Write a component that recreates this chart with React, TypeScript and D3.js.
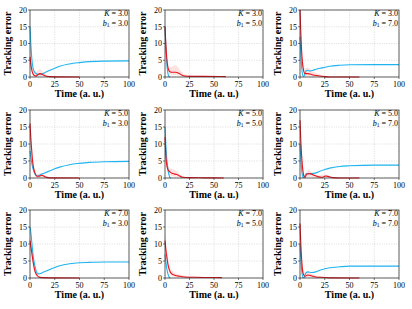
import * as d3 from "d3";

type Pt = [number, number];
type Band = [number, number, number];

const xTicks = [0, 25, 50, 75, 100];
const yTicks = [0, 5, 10, 15, 20];
const kValues = ["3.0", "5.0", "7.0"];
const bValues = ["3.0", "5.0", "7.0"];

// row = K, col = b1
const blue33: Pt[] = [[0, 15], [1, 9], [2, 5], [3, 2.8], [5, 1.3], [8, 0.8], [10, 0.8], [15, 1.3], [20, 2], [25, 2.6], [30, 3.2], [40, 3.9], [50, 4.3], [60, 4.6], [75, 4.75], [100, 4.8]];
const red33: Pt[] = [[0, 6], [1, 3.5], [2, 1.8], [4, 0.5], [6, 0.3], [8, 0.7], [10, 1], [13, 0.7], [16, 0.3], [20, 0.1], [25, 0.05], [50, 0.02]];
const band33: Band[] = [[0, 4, 15], [2, 1, 4], [5, 0, 1.2], [8, 0.2, 2], [10, 0.3, 2.3], [13, 0.2, 1.6], [17, 0, 0.6], [25, 0, 0.2], [50, 0, 0.1]];

const blue35: Pt[] = [[0, 15], [1, 8], [2, 3.5], [3, 1], [4, 0.2], [5, 0]];
const red35: Pt[] = [[0, 15], [1, 9], [2, 5], [3, 2.8], [5, 1.6], [8, 1.4], [11, 1.4], [14, 1.1], [17, 0.6], [20, 0.3], [25, 0.2], [40, 0.2], [55, 0.15], [62, 0.1]];
const band35: Band[] = [[0, 13, 17], [2, 3, 7], [5, 0.8, 2.8], [8, 0.6, 3.2], [11, 0.6, 3.5], [15, 0.4, 2.2], [20, 0.1, 0.8], [30, 0, 0.4], [62, 0, 0.3]];

const blue37: Pt[] = [[0, 12], [1, 6], [2, 2], [3, 0.3], [4, 0.2], [6, 1.8], [8, 2], [10, 1.8], [15, 2.2], [20, 2.6], [25, 2.9], [30, 3.2], [40, 3.5], [50, 3.65], [75, 3.7], [100, 3.7]];
const red37: Pt[] = [[0, 20], [1, 12], [2, 6], [3, 3], [5, 1], [8, 1], [10, 0.9], [15, 0.5], [20, 0.3], [25, 0.1], [30, 0], [60, 0]];
const band37: Band[] = [[0, 18, 20], [2, 4, 8], [5, 0.3, 2.5], [8, 0.3, 2.8], [12, 0.2, 1.8], [20, 0, 0.8], [30, 0, 0.2], [60, 0, 0.1]];

const blue53: Pt[] = [[0, 8], [1, 6], [2, 4], [4, 1.8], [6, 0.8], [8, 0.6], [10, 0.9], [15, 1.5], [20, 2.1], [25, 2.7], [30, 3.2], [40, 3.9], [50, 4.3], [60, 4.6], [75, 4.8], [100, 4.9]];
const red53: Pt[] = [[0, 16], [1, 11], [2, 7], [3, 4], [5, 1.5], [7, 0.5], [9, 0.5], [12, 0.8], [15, 0.4], [20, 0.05], [50, 0]];
const band53: Band[] = [[0, 14, 18], [2, 5, 9], [4, 1.5, 4], [7, 0.1, 1.2], [11, 0.2, 1.5], [15, 0, 0.8], [20, 0, 0.2], [50, 0, 0.05]];

const blue55: Pt[] = [[0, 15], [1, 9], [2, 5], [3, 2.5], [4, 1], [5, 0.2], [6, 0]];
const red55: Pt[] = [[0, 12], [1, 6], [2, 3.5], [3, 2.5], [5, 1.8], [8, 1.3], [12, 1], [15, 0.6], [18, 0.2], [25, 0.1], [40, 0.05], [60, 0]];
const band55: Band[] = [[0, 10, 15], [2, 2.5, 5], [5, 0.8, 3], [8, 0.5, 2.6], [12, 0.3, 2], [16, 0.1, 1], [20, 0, 0.4], [30, 0, 0.2], [60, 0, 0.05]];

const blue57: Pt[] = [[0, 10], [1, 5], [2, 1.5], [3, 0.2], [4, 0.1], [6, 1.2], [8, 1.3], [12, 1.3], [16, 1.5], [20, 2], [25, 2.5], [30, 2.9], [40, 3.4], [50, 3.6], [75, 3.8], [100, 3.8]];
const red57: Pt[] = [[0, 17], [1, 10], [2, 5], [3, 2], [4, 0.5], [5, 0.2], [7, 1.2], [10, 1.3], [14, 0.8], [18, 0.4], [22, 0.2], [26, 0.6], [29, 0.4], [33, 0.1], [40, 0], [60, 0]];
const band57: Band[] = [[0, 15, 19], [2, 3, 7], [5, 0, 1], [8, 0.4, 2.4], [12, 0.3, 1.8], [18, 0.1, 0.8], [26, 0.2, 1], [33, 0, 0.3], [60, 0, 0.05]];

const blue73: Pt[] = [[0, 15], [1, 13], [2, 10], [3, 7], [5, 3.5], [7, 1.5], [9, 1.2], [12, 1.5], [15, 1.9], [20, 2.5], [25, 3.1], [30, 3.6], [40, 4.2], [50, 4.5], [60, 4.6], [75, 4.7], [100, 4.7]];
const red73: Pt[] = [[0, 11], [1, 9], [2, 7], [3, 5], [5, 2], [7, 0.8], [9, 0.3], [12, 0.1], [20, 0.05], [50, 0]];
const band73: Band[] = [[0, 9, 13], [2, 5, 9], [4, 2, 5], [7, 0.3, 1.6], [10, 0, 0.6], [20, 0, 0.15], [50, 0, 0.05]];

const blue75: Pt[] = [[0, 7], [1, 4.5], [2, 2.5], [3, 1.2], [4, 0.4], [5, 0]];
const red75: Pt[] = [[0, 11], [1, 8], [2, 6], [3, 4], [5, 2], [7, 1.2], [10, 0.8], [15, 0.5], [20, 0.3], [30, 0.2], [45, 0.15], [58, 0.1]];
const band75: Band[] = [[0, 9, 14], [2, 4.5, 8], [4, 1.8, 4.5], [7, 0.6, 2.2], [10, 0.4, 1.6], [15, 0.2, 1], [25, 0.1, 0.5], [58, 0, 0.2]];

const blue77: Pt[] = [[0, 10], [1, 5], [2, 1.5], [3, 0.2], [4, 0.1], [6, 1.5], [8, 1.8], [12, 1.6], [16, 1.8], [20, 2.3], [25, 2.7], [30, 3], [40, 3.3], [50, 3.5], [75, 3.5], [100, 3.5]];
const red77: Pt[] = [[0, 16], [1, 9], [2, 4], [3, 1.5], [5, 0.5], [8, 0.9], [12, 0.6], [16, 0.3], [20, 0.2], [30, 0.05], [60, 0]];
const band77: Band[] = [[0, 14, 18], [2, 2.5, 6], [5, 0, 1.5], [8, 0.3, 1.8], [12, 0.2, 1.2], [20, 0, 0.5], [30, 0, 0.15], [60, 0, 0.05]];

const blueRows = [[blue33, blue35, blue37], [blue53, blue55, blue57], [blue73, blue75, blue77]];
const redRows = [[red33, red35, red37], [red53, red55, red57], [red73, red75, red77]];
const bandRows = [[band33, band35, band37], [band53, band55, band57], [band73, band75, band77]];

const W = 412;
const H = 309;
const colX: [number, number][] = [[30, 129], [165, 263], [300, 399]];
const rowY: [number, number][] = [[10, 77], [110, 178], [210, 278]];

const BLUE = "#1eb4f0";
const RED = "#e8141c";
const FONT = "'Liberation Serif', 'Times New Roman', serif";

function Panel({ r, c }: { r: number; c: number }) {
  const [x0, x1] = colX[c];
  const [y0, y1] = rowY[r];
  const x = d3.scaleLinear().domain([0, 100]).range([x0, x1]);
  const y = d3.scaleLinear().domain([0, 20]).range([y1, y0]);
  const line = d3
    .line<Pt>()
    .x((d) => x(d[0]))
    .y((d) => y(d[1]))
    .curve(d3.curveMonotoneX);
  const area = d3
    .area<Band>()
    .x((d) => x(d[0]))
    .y0((d) => y(d[1]))
    .y1((d) => y(d[2]))
    .curve(d3.curveMonotoneX);
  const cx = (x0 + x1) / 2;
  const cy = (y0 + y1) / 2;
  return (
    <g>
      {xTicks.map((t) => (
        <line key={"gx" + t} x1={x(t)} x2={x(t)} y1={y0} y2={y1} stroke="#cfcfcf" strokeWidth={0.6} strokeDasharray="1.2,1.2" />
      ))}
      {yTicks.map((t) => (
        <line key={"gy" + t} x1={x0} x2={x1} y1={y(t)} y2={y(t)} stroke="#cfcfcf" strokeWidth={0.6} strokeDasharray="1.2,1.2" />
      ))}
      <path d={area(bandRows[r][c]) ?? ""} fill="#f59a9a" fillOpacity={0.3} />
      <path d={line(blueRows[r][c]) ?? ""} fill="none" stroke={BLUE} strokeWidth={1.1} />
      <path d={line(redRows[r][c]) ?? ""} fill="none" stroke={RED} strokeWidth={1.1} />
      <rect x={x0} y={y0} width={x1 - x0} height={y1 - y0} fill="none" stroke="#222" strokeWidth={0.7} />
      {xTicks.map((t) => (
        <g key={"tx" + t}>
          <line x1={x(t)} x2={x(t)} y1={y1} y2={y1 + 2} stroke="#222" strokeWidth={0.6} />
          <text x={x(t)} y={y1 + 9.5} fontSize={8} textAnchor="middle" fontFamily={FONT}>{t}</text>
        </g>
      ))}
      {yTicks.map((t) => (
        <g key={"ty" + t}>
          <line x1={x0 - 2} x2={x0} y1={y(t)} y2={y(t)} stroke="#222" strokeWidth={0.6} />
          <text x={x0 - 3} y={y(t) + 2.8} fontSize={8} textAnchor="end" fontFamily={FONT}>{t}</text>
        </g>
      ))}
      <text x={cx} y={y1 + 20} fontSize={10} fontWeight="bold" textAnchor="middle" fontFamily={FONT}>Time (a. u.)</text>
      <text transform={`translate(${x0 - 19},${cy}) rotate(-90)`} fontSize={10} fontWeight="bold" textAnchor="middle" fontFamily={FONT}>Tracking error</text>
      <text x={x1 - 1} y={y0 + 6} fontSize={8} textAnchor="end" fontFamily={FONT}>
        <tspan fontStyle="italic">K</tspan> = {kValues[r]}
      </text>
      <text x={x1 - 1} y={y0 + 15.5} fontSize={8} textAnchor="end" fontFamily={FONT}>
        <tspan fontStyle="italic">b</tspan>
        <tspan fontSize={5.5} dy={1.6}>1</tspan>
        <tspan dy={-1.6}> = {bValues[c]}</tspan>
      </text>
    </g>
  );
}

export default function App() {
  return (
    <svg width={W} height={H} style={{ position: "absolute", left: 0, top: 0, background: "#fff" }}>
      {[0, 1, 2].map((r) => [0, 1, 2].map((c) => <Panel key={`${r}-${c}`} r={r} c={c} />))}
    </svg>
  );
}
